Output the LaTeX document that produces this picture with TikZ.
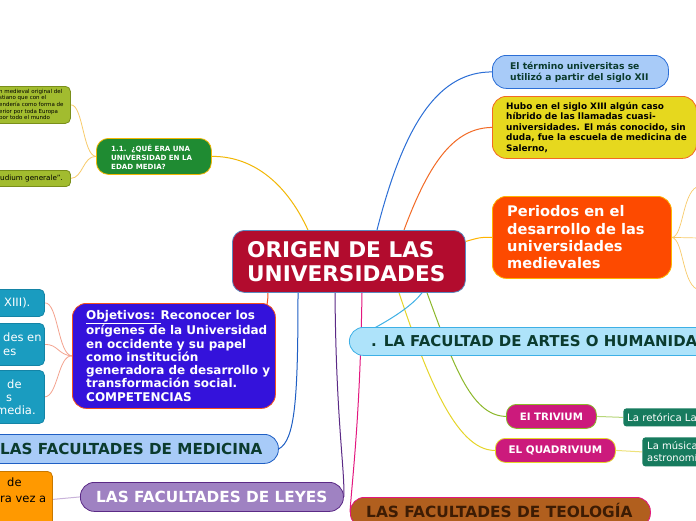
\documentclass[tikz,border=0pt]{standalone}
\usepackage{fontspec}
\setmainfont{DejaVu Sans}
\usetikzlibrary{backgrounds}
\definecolor{crim}{HTML}{B20C2E}
\definecolor{crimb}{HTML}{5A8AC0}
\definecolor{gnode}{HTML}{1F8B32}
\definecolor{gold}{HTML}{F2B705}
\definecolor{lgold}{HTML}{F8CB6A}
\definecolor{olive}{HTML}{A2BC2F}
\definecolor{oliveb}{HTML}{7A8F1A}
\definecolor{teal}{HTML}{1A9CC0}
\definecolor{tealb}{HTML}{1484A6}
\definecolor{objf}{HTML}{3412DB}
\definecolor{objb}{HTML}{F4511E}
\definecolor{salmon}{HTML}{F4A38F}
\definecolor{lblue}{HTML}{A8CBF8}
\definecolor{medb}{HTML}{1F5FC4}
\definecolor{dgreen}{HTML}{0B3B2E}
\definecolor{leyf}{HTML}{9F82C2}
\definecolor{leyb}{HTML}{5B2A86}
\definecolor{lpurp}{HTML}{C9B3DA}
\definecolor{orng}{HTML}{FF9900}
\definecolor{orngb}{HTML}{C77800}
\definecolor{teof}{HTML}{B15F1E}
\definecolor{teob}{HTML}{E3177F}
\definecolor{teot}{HTML}{3D1C04}
\definecolor{univb}{HTML}{2B6ED6}
\definecolor{hubof}{HTML}{E6D81E}
\definecolor{hubob}{HTML}{F26A25}
\definecolor{perf}{HTML}{FD4A00}
\definecolor{perb}{HTML}{FFB400}
\definecolor{artf}{HTML}{AEE3FA}
\definecolor{artb}{HTML}{3EB0E6}
\definecolor{mag}{HTML}{CC1A7C}
\definecolor{trivb}{HTML}{8CB82A}
\definecolor{quadb}{HTML}{E6D52A}
\definecolor{dteal}{HTML}{177B5E}
\definecolor{lgreen}{HTML}{B8D77A}
\definecolor{lyell}{HTML}{EEE27A}
\begin{document}
\begin{tikzpicture}[x=1pt,y=-1pt,
  bx/.style={anchor=north west, inner sep=0pt, line width=0.8pt},
  txt/.style={anchor=west, align=left, inner sep=0pt},
  conn/.style={line width=1pt}]
\useasboundingbox (0,0) rectangle (696,520);
\clip (0,0) rectangle (696,520);
% boxes
\node[bx, fill=crim, draw=crimb, rounded corners=12pt, minimum width=233pt, minimum height=62pt] (c) at (232,230) {};
\node[txt, xshift=15pt, text=white, font=\fontsize{21.6}{24}\selectfont\bfseries] (ct) at (c.west) {ORIGEN DE LAS\\UNIVERSIDADES};

\node[bx, fill=gnode, draw=gold, rounded corners=12pt, minimum width=115pt, minimum height=36pt] (g) at (96,138) {};
\node[txt, xshift=15pt, yshift=-1pt, text=white, font=\fontsize{7.1}{9}\selectfont\bfseries] (gt) at (g.west) {1.1.\ \ ¿QUÉ ERA UNA\\UNIVERSIDAD EN LA\\EDAD MEDIA?};

\node[bx, fill=olive, draw=oliveb, rounded corners=5pt, minimum width=80pt, minimum height=37pt] (o1) at (-10,86) {};
\node[txt, xshift=9pt, font=\fontsize{5.5}{6.6}\selectfont] (o1t) at (o1.west) {n medieval original del\\stiano que con el\\endería como forma de\\erior por toda Europa\\por todo el mundo};

\node[bx, fill=olive, draw=oliveb, rounded corners=4pt, minimum width=80pt, minimum height=16pt] (o2) at (-10,170) {};
\node[txt, xshift=10pt, font=\fontsize{7.2}{9}\selectfont] (o2t) at (o2.west) {udium generale".};

\node[bx, fill=teal, draw=tealb, rounded corners=5pt, minimum width=54pt, minimum height=27pt] (t1) at (-10,289) {};
\node[txt, xshift=14pt, text=white, font=\fontsize{11.5}{13.5}\selectfont] (t1t) at (t1.west) {XIII).};
\node[bx, fill=teal, draw=tealb, rounded corners=5pt, minimum width=54pt, minimum height=42pt] (t2) at (-10,323) {};
\node[txt, xshift=13pt, text=white, font=\fontsize{11.5}{14}\selectfont] (t2t) at (t2.west) {des en\\es};
\node[bx, fill=teal, draw=tealb, rounded corners=5pt, minimum width=54pt, minimum height=53pt] (t3) at (-10,370) {};
\node[txt, xshift=6pt, text=white, font=\fontsize{11.5}{13}\selectfont] (t3t) at (t3.west) {\hspace*{11pt}de\\\hspace*{10pt}s\\media.};

\node[bx, fill=objf, draw=objb, rounded corners=14pt, minimum width=203pt, minimum height=105pt] (obj) at (72,303) {};
\node[txt, xshift=14pt, text=white, font=\fontsize{12}{13.3}\selectfont\bfseries] (objt) at (obj.west) {\underline{Objetivos: }Reconocer los\\orígenes de la Universidad\\en occidente y su papel\\como institución\\generadora de desarrollo y\\transformación social.\\COMPETENCIAS};

\node[bx, fill=lblue, draw=medb, rounded corners=14pt, minimum width=293pt, minimum height=29pt] (m) at (-15,434) {};
\node[txt, xshift=15pt, text=dgreen, font=\fontsize{15.2}{18}\selectfont\bfseries] (mt) at (m.west) {LAS FACULTADES DE MEDICINA};

\node[bx, fill=leyf, draw=leyb, rounded corners=14pt, minimum width=263pt, minimum height=29pt] (l) at (80,482) {};
\node[txt, xshift=16pt, text=white, font=\fontsize{15.3}{18}\selectfont\bfseries] (lt) at (l.west) {LAS FACULTADES DE LEYES};

\node[bx, fill=orng, draw=orngb, rounded corners=5pt, minimum width=62pt, minimum height=56pt] (or) at (-10,471) {};
\node[txt, font=\fontsize{11.5}{15.5}\selectfont] (ort) at (0,490) {\hspace*{7pt}de\\ra vez a};

\node[bx, fill=teof, draw=teob, rounded corners=14pt, minimum width=300pt, minimum height=30pt] (te) at (350,497) {};
\node[txt, xshift=16pt, yshift=2pt, text=teot, font=\fontsize{15.4}{18}\selectfont\bfseries] (tet) at (te.west) {LAS FACULTADES DE TEOLOGÍA};

\node[bx, fill=lblue, draw=univb, rounded corners=14pt, minimum width=176pt, minimum height=33pt] (u) at (492,55) {};
\node[txt, xshift=18pt, text=dgreen, font=\fontsize{9.2}{11}\selectfont\bfseries] (ut) at (u.west) {El término universitas se\\utilizó a partir del siglo XII};

\node[bx, fill=hubof, draw=hubob, rounded corners=14pt, minimum width=204pt, minimum height=62pt] (h) at (492,96) {};
\node[txt, xshift=14pt, font=\fontsize{8.9}{10.6}\selectfont\bfseries] (ht) at (h.west) {Hubo en el siglo XIII algún caso\\híbrido de las llamadas cuasi-\\universidades. El más conocido, sin\\duda, fue la escuela de medicina de\\Salerno,};

\node[bx, fill=perf, draw=perb, rounded corners=14pt, minimum width=179pt, minimum height=82pt] (p) at (492,196) {};
\node[txt, xshift=15pt, text=white, font=\fontsize{14.6}{17.3}\selectfont\bfseries] (pt) at (p.west) {Periodos en el\\desarrollo de las\\universidades\\medievales};

\node[bx, fill=artf, draw=artb, rounded corners=14pt, minimum width=370pt, minimum height=28pt] (a) at (349,327) {};
\node[txt, xshift=22pt, text=dgreen, font=\fontsize{15}{18}\selectfont\bfseries] (at) at (a.west) {. LA FACULTAD DE ARTES O HUMANIDADES};

\node[bx, fill=mag, draw=trivb, rounded corners=10pt, minimum width=90pt, minimum height=24pt] (tr) at (506,404) {};
\node[text=white, inner sep=0pt, font=\fontsize{10.2}{11}\selectfont\bfseries] (trt) at (tr.center) {EI TRIVIUM};

\node[bx, fill=mag, draw=quadb, rounded corners=10pt, minimum width=120pt, minimum height=24pt] (q) at (495,438) {};
\node[text=white, inner sep=0pt, font=\fontsize{10.4}{11}\selectfont\bfseries] (qt) at (q.center) {EL QUADRIVIUM};

\node[bx, fill=dteal, rounded corners=3pt, minimum width=80pt, minimum height=18pt] (r) at (623,408) {};
\node[txt, xshift=4pt, text=white, font=\fontsize{10.2}{11}\selectfont] (rt) at (r.west) {La retórica La};

\node[bx, fill=dteal, rounded corners=3pt, minimum width=60pt, minimum height=29pt] (mu) at (642,437) {};
\node[txt, xshift=5pt, text=white, font=\fontsize{10}{12}\selectfont] (mut) at (mu.west) {La música\\astronomí};

\coordinate (pa) at (700,186);
\coordinate (pb) at (700,238);
\coordinate (pc) at (700,290);

% connectors
\begin{scope}[on background layer]
\fill[white] (0,0) rectangle (696,520);
\draw[conn, gold] ([xshift=76pt]c.north west) .. controls (285,180) and (250,156) .. (g.east);
\draw[conn, univb] ([xshift=145pt]c.north west) .. controls (405,120) and (440,72) .. (u.west);
\draw[conn, hubob] ([xshift=172pt]c.north west) .. controls (430,160) and (455,128) .. (h.west);
\draw[conn, perb] ([yshift=20pt]c.east) .. controls (478,238) and (480,237) .. (p.west);
\draw[conn, objb] ([xshift=36pt]c.south west) .. controls (268,330) and (240,355) .. (obj.center);
\draw[conn, medb] ([xshift=66pt]c.south west) .. controls (298,400) and (295,440) .. (m.east);
\draw[conn, leyb] ([xshift=103pt]c.south west) .. controls (336,420) and (345,470) .. (l.east);
\draw[conn, teob] ([xshift=130pt]c.south west) .. controls (360,420) and (352,480) .. (te.west);
\draw[conn, quadb] ([xshift=167pt]c.south west) .. controls (425,370) and (455,451) .. (q.west);
\draw[conn, artb] ([xshift=190pt]c.south west) .. controls (405,315) and (360,335) .. (a.west);
\draw[conn, trivb] ([xshift=195pt]c.south west) .. controls (452,360) and (470,416) .. (tr.west);
\draw[conn, lgold, line width=0.8pt] (g.west) .. controls (83,156) and (83,104) .. (o1.east);
\draw[conn, lgold, line width=0.8pt] (g.west) .. controls (83,156) and (83,178) .. (o2.east);
\draw[conn, salmon, line width=0.8pt] (obj.west) .. controls (58,355) and (58,302) .. (t1.east);
\draw[conn, salmon, line width=0.8pt] (obj.west) .. controls (58,355) and (58,344) .. (t2.east);
\draw[conn, salmon, line width=0.8pt] (obj.west) .. controls (58,355) and (58,396) .. (t3.east);
\draw[conn, lpurp] (l.west) -- (or.east);
\draw[conn, lgreen] (tr.east) -- (r.west);
\draw[conn, lyell] (q.east) -- (mu.west);
\draw[conn, lgold, line width=0.7pt] (p.east) .. controls (684,237) and (682,188) .. (pa);
\draw[conn, lgold, line width=0.7pt] (p.east) -- (pb);
\draw[conn, lgold, line width=0.7pt] (p.east) .. controls (684,239) and (682,288) .. (pc);
\end{scope}
\end{tikzpicture}
\end{document}
